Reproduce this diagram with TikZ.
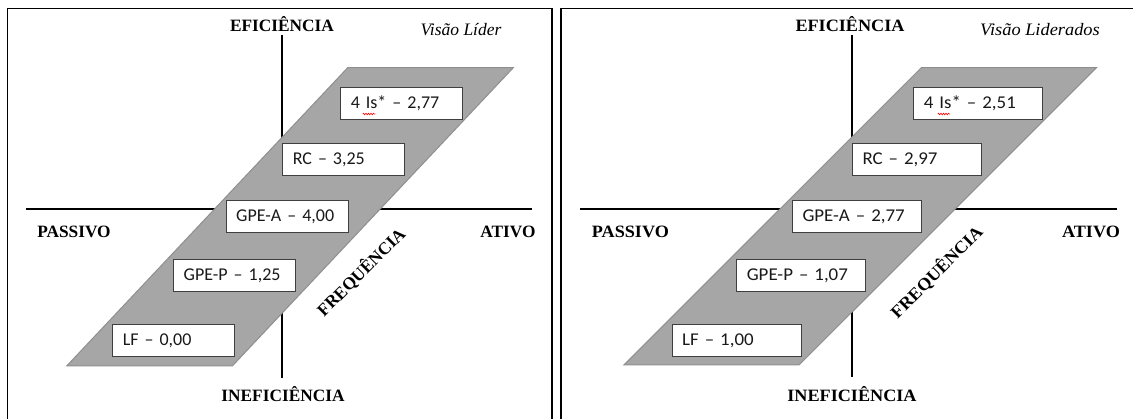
\documentclass[tikz,border=0pt]{standalone}
\usepackage{fontspec}
\setmainfont{Liberation Serif}
\newfontfamily\calibri{Carlito}
\newfontfamily\calibriR{Carlito}[FakeStretch=1.05]
\newfontfamily\serifR{Liberation Serif}[FakeStretch=1.05]
\newcommand\boxfontL{\calibri\fontsize{18}{20}\selectfont\setlength{\spaceskip}{2.7pt}}
\newcommand\boxfontR{\calibriR\fontsize{18}{20}\selectfont\setlength{\spaceskip}{2.8pt}}
\usetikzlibrary{decorations.pathmorphing,calc}
\definecolor{paragray}{HTML}{A6A6A6}
\definecolor{paraedge}{HTML}{8F8F8F}
\definecolor{boxedge}{HTML}{3F3F3F}
\begin{document}
\begin{tikzpicture}[x=1pt,y=-1pt,
 panelframe/.style={line width=1.6pt, black},
 axisline/.style={line width=1.8pt, black},
 para/.style={fill=paragray, draw=paraedge, line width=1pt},
 valbox/.style={draw=boxedge, fill=white, line width=1pt, anchor=north west,
   minimum height=31.7pt, inner xsep=10pt, inner ysep=0pt, align=left, text=black!90},
 valboxL/.style={valbox, text width=102pt, font=\boxfontL},
 valboxR/.style={valbox, text width=109pt, font=\boxfontR},
 axislabel/.style={font=\bfseries\fontsize{17.3}{20}\selectfont, inner sep=0pt},
 axislabelR/.style={font=\serifR\bfseries\fontsize{17.3}{20}\selectfont, inner sep=0pt},
 viewlabel/.style={font=\itshape\fontsize{17.5}{20}\selectfont, inner sep=0pt},
 viewlabelR/.style={font=\serifR\itshape\fontsize{17.5}{20}\selectfont, inner sep=0pt},
 squig/.style={red, line width=0.6pt, decorate, decoration={snake, segment length=2.5pt, amplitude=0.8pt}}
]
\useasboundingbox (0,0) rectangle (1133,419);
\fill[white] (0,0) rectangle (1133,419);

% ---------------- left panel ----------------
\draw[panelframe] (7.5,430) -- (7.5,8.5) -- (551.7,8.5) -- (551.7,430);
\coordinate (vTL) at (282,35);
\coordinate (vBL) at (282,378);
\coordinate (hLL) at (25.7,209);
\coordinate (hRL) at (532,209);
\draw[axisline] (vTL) -- (vBL);
\draw[axisline] (hLL) -- (hRL);
\coordinate (p1L) at (66.7,366);
\coordinate (p2L) at (232.3,366);
\coordinate (p3L) at (513.3,67.7);
\coordinate (p4L) at (347.7,67.7);
\draw[para] (p1L) -- (p2L) -- (p3L) -- (p4L) -- cycle;

\node[valboxL] (b1L) at (340.3,87.3) {4 Is* – 2,77};
\node[valboxL] (b2L) at (282.3,143.3) {RC – 3,25};
\node[valboxL] (b3L) at (225.7,200) {GPE-A – 4,00};
\node[valboxL] (b4L) at (173.2,259.3) {GPE-P – 1,25};
\node[valboxL] (b5L) at (112.3,324.3) {LF – 0,00};
\draw[squig] ($(b1L.south west)+(22.4,-6)$) -- ($(b1L.south west)+(35,-6)$);

\node[axislabel] (efL) at (282,24) {EFICIÊNCIA};
\node[viewlabel] (vwL) at (461,30) {Visão Líder};
\node[axislabel] (paL) at (74,232) {PASSIVO};
\node[axislabel] (atL) at (508,232) {ATIVO};
\node[axislabel] (inL) at (283,394) {INEFICIÊNCIA};
\node[axislabel, rotate=45] (frL) at (361,272) {FREQUÊNCIA};

% ---------------- right panel ----------------
\draw[panelframe] (560.7,430) -- (560.7,8.5) -- (1140,8.5);
\coordinate (vTR) at (852,35);
\coordinate (vBR) at (852,377);
\coordinate (hLR) at (580,209);
\coordinate (hRR) at (1116.6,209);
\draw[axisline] (vTR) -- (vBR);
\draw[axisline] (hLR) -- (hRR);
\coordinate (p1R) at (623.9,365);
\coordinate (p2R) at (799,365);
\coordinate (p3R) at (1096.5,67.7);
\coordinate (p4R) at (921.3,67.7);
\draw[para] (p1R) -- (p2R) -- (p3R) -- (p4R) -- cycle;

\node[valboxR] (b1R) at (913.3,87.3) {4 Is* – 2,51};
\node[valboxR] (b2R) at (852,143.3) {RC – 2,97};
\node[valboxR] (b3R) at (792,200) {GPE-A – 2,77};
\node[valboxR] (b4R) at (736.3,259) {GPE-P – 1,07};
\node[valboxR] (b5R) at (671.7,324) {LF – 1,00};
\draw[squig] ($(b1R.south west)+(24.4,-6)$) -- ($(b1R.south west)+(36.5,-6)$);

\node[axislabelR] (efR) at (850,24) {EFICIÊNCIA};
\node[viewlabelR] (vwR) at (1040,30) {Visão Liderados};
\node[axislabelR] (paR) at (630.4,232) {PASSIVO};
\node[axislabelR] (atR) at (1091,232) {ATIVO};
\node[axislabelR] (inR) at (852,394) {INEFICIÊNCIA};
\node[axislabelR, rotate=45] (frR) at (936.5,272) {FREQUÊNCIA};
\end{tikzpicture}
\end{document}
